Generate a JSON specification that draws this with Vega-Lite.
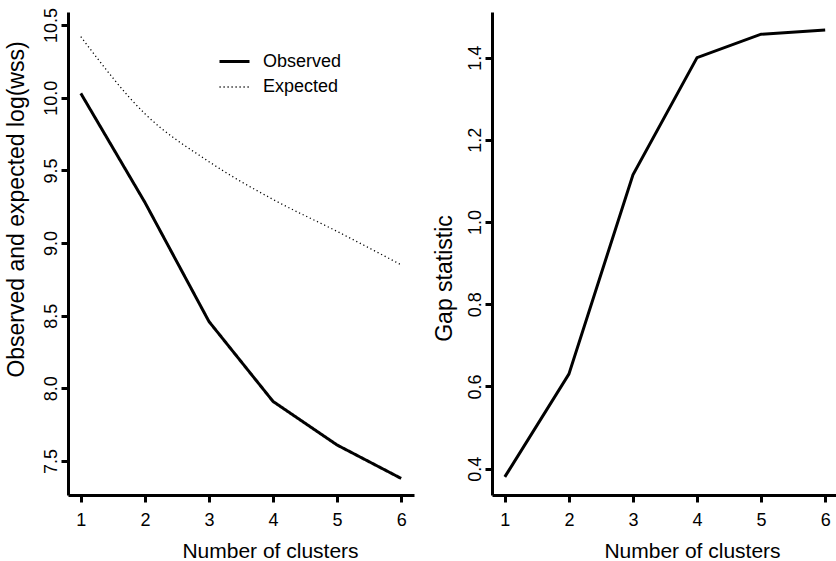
{
  "$schema": "https://vega.github.io/schema/vega-lite/v6.json",
  "background": "white",
  "padding": {"left": 5, "top": 7, "right": 0, "bottom": 0},
  "config": {
    "font": "Liberation Sans",
    "view": {"stroke": null},
    "axis": {
      "grid": false,
      "domainColor": "black",
      "domainWidth": 3,
      "tickColor": "black",
      "tickWidth": 3,
      "tickSize": 7,
      "labelColor": "black",
      "labelFontSize": 18,
      "titleColor": "black",
      "titleFontWeight": "normal"
    },
    "legend": {
      "labelFontSize": 18,
      "labelColor": "black"
    }
  },
  "datasets": {
    "wss": [
      {"k": 1, "value": 10.03, "series": "Observed"},
      {"k": 2, "value": 9.28, "series": "Observed"},
      {"k": 3, "value": 8.46, "series": "Observed"},
      {"k": 4, "value": 7.91, "series": "Observed"},
      {"k": 5, "value": 7.61, "series": "Observed"},
      {"k": 6, "value": 7.38, "series": "Observed"},
      {"k": 1, "value": 10.42, "series": "Expected"},
      {"k": 2, "value": 9.89, "series": "Expected"},
      {"k": 3, "value": 9.56, "series": "Expected"},
      {"k": 4, "value": 9.3, "series": "Expected"},
      {"k": 5, "value": 9.08, "series": "Expected"},
      {"k": 6, "value": 8.85, "series": "Expected"}
    ],
    "gap": [
      {"k": 1, "gap": 0.38},
      {"k": 2, "gap": 0.63},
      {"k": 3, "gap": 1.115},
      {"k": 4, "gap": 1.4},
      {"k": 5, "gap": 1.457},
      {"k": 6, "gap": 1.467}
    ]
  },
  "hconcat": [
    {
      "width": 346,
      "height": 483,
      "data": {"name": "wss"},
      "encoding": {
        "x": {
          "field": "k", "type": "quantitative",
          "scale": {"domain": [0.8, 6.2], "nice": false, "zero": false},
          "axis": {
            "values": [1, 2, 3, 4, 5, 6], "format": "d",
            "title": "Number of clusters", "titleFontSize": 21,
            "labelBaseline": "alphabetic", "labelPadding": 23,
            "titleX": 202, "titleY": 62, "titleBaseline": "alphabetic", "titleAlign": "center"
          }
        },
        "y": {
          "field": "value", "type": "quantitative",
          "scale": {"domain": [7.266, 10.59], "nice": false, "zero": false},
          "axis": {
            "values": [7.5, 8, 8.5, 9, 9.5, 10, 10.5], "format": ".1f",
            "labelAngle": -90, "labelAlign": "center", "labelBaseline": "alphabetic", "labelPadding": 5,
            "title": "Observed and expected log(wss)", "titleFontSize": 23,
            "titleAngle": -90, "titleX": -45, "titleY": 197, "titleBaseline": "alphabetic", "titleAlign": "center"
          }
        },
        "strokeDash": {
          "field": "series", "type": "nominal",
          "scale": {"domain": ["Observed", "Expected"], "range": [[1, 0], [1.2, 2.8]]},
          "legend": {
            "title": null, "orient": "none", "legendX": 150, "legendY": 33,
            "symbolType": "stroke", "symbolSize": 900, "symbolStrokeColor": "black",
            "labelOffset": 12, "rowPadding": 0
          }
        },
        "strokeWidth": {
          "field": "series", "type": "nominal",
          "scale": {"domain": ["Observed", "Expected"], "range": [3, 1.3]},
          "legend": {
            "title": null, "orient": "none", "legendX": 150, "legendY": 33,
            "symbolType": "stroke", "symbolSize": 900, "symbolStrokeColor": "black",
            "labelOffset": 12, "rowPadding": 0
          }
        }
      },
      "layer": [
        {
          "transform": [{"filter": "datum.series === 'Observed'"}],
          "mark": {"type": "line", "color": "black", "strokeCap": "butt"}
        },
        {
          "transform": [{"filter": "datum.series === 'Expected'"}],
          "mark": {"type": "line", "color": "black", "interpolate": "monotone", "strokeCap": "butt"}
        }
      ]
    },
    {
      "width": 346,
      "height": 483,
      "data": {"name": "gap"},
      "mark": {"type": "line", "color": "black", "strokeWidth": 3},
      "encoding": {
        "x": {
          "field": "k", "type": "quantitative",
          "scale": {"domain": [0.8, 6.2], "nice": false, "zero": false},
          "axis": {
            "values": [1, 2, 3, 4, 5, 6], "format": "d",
            "title": "Number of clusters", "titleFontSize": 21,
            "labelBaseline": "alphabetic", "labelPadding": 23,
            "titleX": 200, "titleY": 62, "titleBaseline": "alphabetic", "titleAlign": "center"
          }
        },
        "y": {
          "field": "gap", "type": "quantitative",
          "scale": {"domain": [0.336, 1.511], "nice": false, "zero": false},
          "axis": {
            "values": [0.4, 0.6, 0.8, 1.0, 1.2, 1.4], "format": ".1f",
            "labelAngle": -90, "labelAlign": "center", "labelBaseline": "alphabetic", "labelPadding": 5,
            "title": "Gap statistic", "titleFontSize": 23,
            "titleAngle": -90, "titleX": -41, "titleY": 266, "titleBaseline": "alphabetic", "titleAlign": "center"
          }
        }
      }
    }
  ],
  "spacing": 78,
  "bounds": "flush"
}
